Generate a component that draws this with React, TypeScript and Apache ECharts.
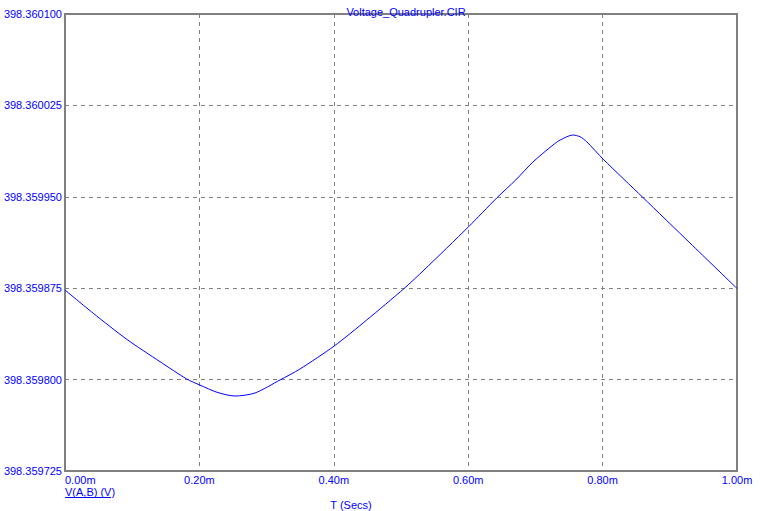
import React, { useEffect, useRef } from "react";
import * as echarts from "echarts";

// Time in ms
const timeMs = [
  0.0, 0.0421, 0.0918, 0.1414, 0.1811, 0.2009, 0.2262, 0.253, 0.2827, 0.32,
  0.3497, 0.4007, 0.449, 0.5049, 0.5342, 0.6007, 0.6424, 0.6707, 0.6964,
  0.7262, 0.7366, 0.7555, 0.7664, 0.7763, 0.801, 0.8597, 0.93, 1.0,
];
// V(A,B) in volts
const voltage = [
  398.3598735, 398.3598544, 398.3598331, 398.3598147, 398.3598005,
  398.3597955, 398.3597896, 398.3597865, 398.359789, 398.3597997,
  398.3598087, 398.3598276, 398.3598489, 398.3598749, 398.3598899,
  398.3599255, 398.359949, 398.3599638, 398.3599786, 398.3599925,
  398.3599965, 398.3600007, 398.3599993, 398.3599952, 398.3599808,
  398.3599496, 398.3599121, 398.3598748,
];
const yBase = 398.359725;
const yTop = 398.3601;
const yStep = 0.000075;
const xTicks = [0, 0.2, 0.4, 0.6, 0.8, 1.0];

const FONT = "'Liberation Sans', Arial, sans-serif";
const BLUE = "#0000ff";

export default function App() {
  const ref = useRef<HTMLDivElement>(null);
  useEffect(() => {
    if (!ref.current) return;
    const chart = echarts.init(ref.current, null, { renderer: "svg" });
    const toMicro = (v: number) => Math.round((v - yBase) * 1e8) / 100;
    const data = timeMs.map((t, i) => [t, toMicro(voltage[i])]);
    const yMaxMicro = Math.round((yTop - yBase) * 1e6);
    const yIntMicro = Math.round(yStep * 1e6);
    chart.setOption({
      animation: false,
      backgroundColor: "#ffffff",
      title: {
        text: "Voltage_Quadrupler.CIR",
        left: 401,
        textAlign: "center",
        top: 1,
        textStyle: { color: BLUE, fontSize: 11, fontWeight: "normal", fontFamily: FONT },
      },
      grid: {
        left: 65,
        right: 23,
        top: 14,
        bottom: 40,
        show: true,
        borderColor: "#808080",
        borderWidth: 2,
        backgroundColor: "transparent",
      },
      xAxis: {
        type: "value",
        min: xTicks[0],
        max: xTicks[xTicks.length - 1],
        interval: 0.2,
        axisLine: { show: false },
        axisTick: { show: false },
        splitLine: { show: true, lineStyle: { color: "#808080", type: [4, 4], width: 1 } },
        axisLabel: {
          color: BLUE,
          fontSize: 11,
          fontFamily: FONT,
          margin: 3,
          alignMinLabel: "left",
          formatter: (v: number) => v.toFixed(2) + "m",
        },
      },
      yAxis: {
        type: "value",
        min: 0,
        max: yMaxMicro,
        interval: yIntMicro,
        axisLine: { show: false },
        axisTick: { show: false },
        splitLine: { show: true, lineStyle: { color: "#808080", type: [4, 4], width: 1 } },
        axisLabel: {
          color: BLUE,
          fontSize: 11,
          fontFamily: FONT,
          margin: 3,
          formatter: (v: number) => (yBase + v / 1e6).toFixed(6),
        },
      },
      series: [
        {
          type: "line",
          data,
          smooth: 0.25,
          symbol: "none",
          lineStyle: { color: BLUE, width: 1 },
        },
      ],
      graphic: [
        {
          type: "text",
          left: 65,
          top: 486,
          style: { text: "V(A,B) (V)", fill: BLUE, fontSize: 11, fontFamily: FONT },
        },
        {
          type: "line",
          shape: { x1: 65, y1: 497.5, x2: 111, y2: 497.5 },
          style: { stroke: BLUE, lineWidth: 1 },
        },
        {
          type: "text",
          x: 351,
          y: 499,
          style: { text: "T (Secs)", fill: BLUE, fontSize: 11, fontFamily: FONT, align: "center" },
        },
      ],
    });
    return () => chart.dispose();
  }, []);
  return <div ref={ref} style={{ width: 760, height: 511, position: "absolute", left: 0, top: 0 }} />;
}
